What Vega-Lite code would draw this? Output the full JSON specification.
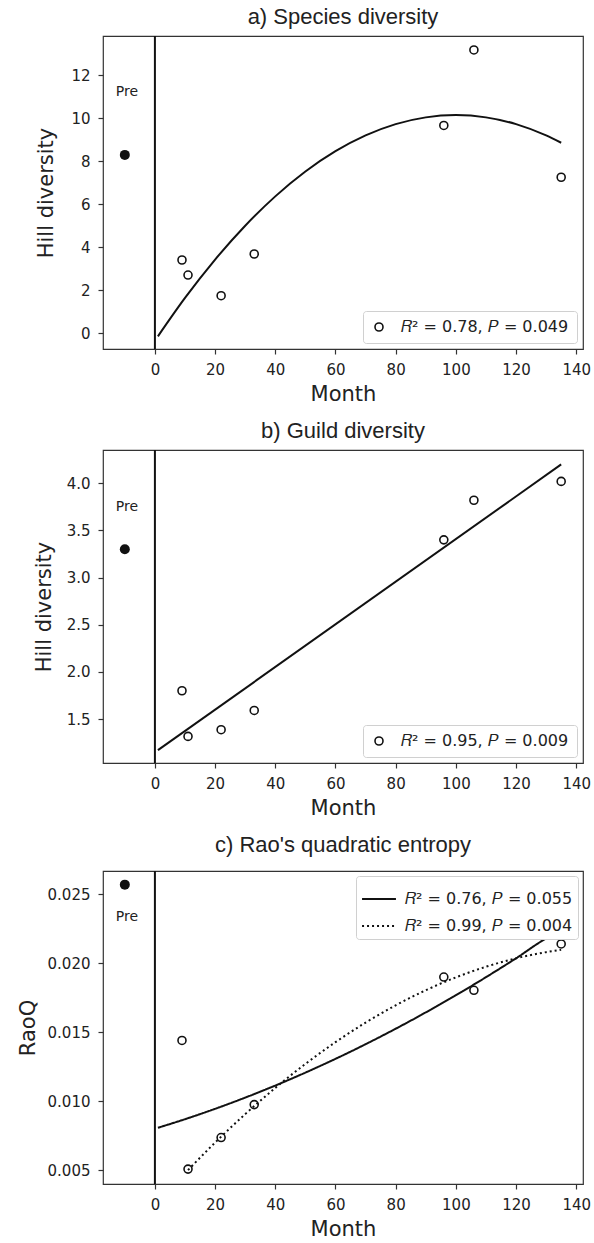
{
  "$schema": "https://vega.github.io/schema/vega-lite/v6.json",
  "background": "white",
  "padding": {"left": 16, "top": 5, "right": 5, "bottom": 5},
  "spacing": 14,
  "config": {
    "font": "DejaVu Sans",
    "view": {"stroke": "#333", "strokeWidth": 1.2},
    "axis": {"grid": false, "domain": false, "tickColor": "#333", "tickSize": 5, "tickWidth": 1.2, "labelPadding": 8, "labelFontSize": 15, "labelColor": "#222", "labelFont": "DejaVu Sans", "titleFont": "DejaVu Sans", "titleFontSize": 21, "titleFontWeight": "normal", "titleColor": "#222"},
    "title": {"font": "Liberation Sans", "fontSize": 22, "fontWeight": "normal", "color": "#222"},
    "legend": {"strokeColor": "#d0d0d0", "fillColor": "white", "padding": 7, "cornerRadius": 3, "labelFontSize": 16, "labelFont": "DejaVu Sans", "labelColor": "#222", "labelOffset": 12, "offset": 6, "symbolStrokeColor": "#111", "symbolStrokeWidth": 1.6, "symbolSize": 64, "rowPadding": 5, "labelLimit": 400}
  },
  "datasets": {
    "a_pts": [{"x": 9, "y": 3.41}, {"x": 11, "y": 2.71}, {"x": 22, "y": 1.75}, {"x": 33, "y": 3.69}, {"x": 96, "y": 9.67}, {"x": 106, "y": 13.18}, {"x": 135, "y": 7.26}],
    "a_pre": [{"x": -10, "y": 8.3}],
    "a_lbl": [{"x": -9.3, "y": 11.22, "label": "Pre"}],
    "a_fit": [{"x": 1, "y": -0.14}, {"x": 10, "y": 1.645}, {"x": 20, "y": 3.43}, {"x": 30, "y": 5.005}, {"x": 40, "y": 6.37}, {"x": 50, "y": 7.525}, {"x": 60, "y": 8.47}, {"x": 70, "y": 9.205}, {"x": 80, "y": 9.73}, {"x": 90, "y": 10.045}, {"x": 100, "y": 10.15}, {"x": 110, "y": 10.045}, {"x": 120, "y": 9.73}, {"x": 130, "y": 9.205}, {"x": 135, "y": 8.864}],
    "b_pts": [{"x": 9, "y": 1.8}, {"x": 11, "y": 1.316}, {"x": 22, "y": 1.387}, {"x": 33, "y": 1.591}, {"x": 96, "y": 3.4}, {"x": 106, "y": 3.82}, {"x": 135, "y": 4.02}],
    "b_pre": [{"x": -10, "y": 3.3}],
    "b_lbl": [{"x": -9.3, "y": 3.752, "label": "Pre"}],
    "b_fit": [{"x": 1, "y": 1.17}, {"x": 135, "y": 4.2}],
    "c_pts": [{"x": 9, "y": 0.0144}, {"x": 11, "y": 0.00507}, {"x": 22, "y": 0.00736}, {"x": 33, "y": 0.00975}, {"x": 96, "y": 0.019}, {"x": 106, "y": 0.01804}, {"x": 135, "y": 0.0214}],
    "c_pre": [{"x": -10, "y": 0.0257}],
    "c_lbl": [{"x": -9.3, "y": 0.02332, "label": "Pre"}],
    "c_fit1": [{"x": 1, "y": 0.008066}, {"x": 10, "y": 0.00869}, {"x": 20, "y": 0.009442}, {"x": 30, "y": 0.010255}, {"x": 40, "y": 0.01113}, {"x": 50, "y": 0.012068}, {"x": 60, "y": 0.013066}, {"x": 70, "y": 0.014127}, {"x": 80, "y": 0.01525}, {"x": 90, "y": 0.016434}, {"x": 100, "y": 0.01768}, {"x": 110, "y": 0.018988}, {"x": 120, "y": 0.020358}, {"x": 130, "y": 0.021789}, {"x": 135, "y": 0.0223}],
    "c_fit2": [{"x": 11, "y": 0.005}, {"x": 20, "y": 0.006994}, {"x": 30, "y": 0.009057}, {"x": 40, "y": 0.010958}, {"x": 50, "y": 0.012697}, {"x": 60, "y": 0.014276}, {"x": 70, "y": 0.015693}, {"x": 80, "y": 0.016948}, {"x": 90, "y": 0.018042}, {"x": 100, "y": 0.018975}, {"x": 110, "y": 0.019746}, {"x": 120, "y": 0.020356}, {"x": 130, "y": 0.020805}, {"x": 135, "y": 0.02097}]
  },
  "resolve": {"scale": {"x": "independent", "y": "independent", "shape": "independent", "strokeDash": "independent"}, "legend": {"shape": "independent", "strokeDash": "independent"}},
  "vconcat": [
    {
      "width": 480, "height": 313,
      "title": {"text": "a) Species diversity", "offset": 6},
      "layer": [
        {"data": {"name": "a_fit"}, "mark": {"type": "line", "color": "#111", "strokeWidth": 2, "interpolate": "monotone"},
         "encoding": {
           "x": {"field": "x", "type": "quantitative", "scale": {"domain": [-17.25, 142.25], "nice": false, "zero": false}, "axis": {"values": [0, 20, 40, 60, 80, 100, 120, 140], "title": "Month", "titlePadding": 6}},
           "y": {"field": "y", "type": "quantitative", "scale": {"domain": [-0.73, 13.83], "nice": false, "zero": false}, "axis": {"values": [0, 2, 4, 6, 8, 10, 12], "title": "Hill diversity", "titlePadding": 14}}}},
        {"data": {"values": [{}]}, "mark": {"type": "rule", "color": "#111", "strokeWidth": 2},
         "encoding": {"x": {"datum": 0, "type": "quantitative", "scale": {"domain": [-17.25, 142.25], "nice": false, "zero": false}}}},
        {"data": {"name": "a_pts"}, "mark": {"type": "point", "filled": false, "color": "#111", "strokeWidth": 1.6, "size": 64, "opacity": 1},
         "encoding": {
           "x": {"field": "x", "type": "quantitative", "scale": {"domain": [-17.25, 142.25], "nice": false, "zero": false}},
           "y": {"field": "y", "type": "quantitative", "scale": {"domain": [-0.73, 13.83], "nice": false, "zero": false}},
           "shape": {"datum": "𝑅² = 0.78, 𝑃 = 0.049", "type": "nominal", "scale": {"range": ["circle"]}, "legend": {"title": null, "orient": "bottom-right", "padding": 8, "labelOffset": 14}}}},
        {"data": {"name": "a_pre"}, "mark": {"type": "point", "filled": true, "color": "#111", "size": 100, "opacity": 1},
         "encoding": {
           "x": {"field": "x", "type": "quantitative", "scale": {"domain": [-17.25, 142.25], "nice": false, "zero": false}},
           "y": {"field": "y", "type": "quantitative", "scale": {"domain": [-0.73, 13.83], "nice": false, "zero": false}}}},
        {"data": {"name": "a_lbl"}, "mark": {"type": "text", "fontSize": 14, "color": "#222", "font": "DejaVu Sans"},
         "encoding": {
           "x": {"field": "x", "type": "quantitative", "scale": {"domain": [-17.25, 142.25], "nice": false, "zero": false}},
           "y": {"field": "y", "type": "quantitative", "scale": {"domain": [-0.73, 13.83], "nice": false, "zero": false}},
           "text": {"field": "label"}}}
      ]
    },
    {
      "width": 480, "height": 313,
      "title": {"text": "b) Guild diversity", "offset": 6},
      "layer": [
        {"data": {"name": "b_fit"}, "mark": {"type": "line", "color": "#111", "strokeWidth": 2},
         "encoding": {
           "x": {"field": "x", "type": "quantitative", "scale": {"domain": [-17.25, 142.25], "nice": false, "zero": false}, "axis": {"values": [0, 20, 40, 60, 80, 100, 120, 140], "title": "Month", "titlePadding": 6}},
           "y": {"field": "y", "type": "quantitative", "scale": {"domain": [1.034, 4.353], "nice": false, "zero": false}, "axis": {"values": [1.5, 2.0, 2.5, 3.0, 3.5, 4.0], "format": ".1f", "title": "Hill diversity", "titlePadding": 12}}}},
        {"data": {"values": [{}]}, "mark": {"type": "rule", "color": "#111", "strokeWidth": 2},
         "encoding": {"x": {"datum": 0, "type": "quantitative", "scale": {"domain": [-17.25, 142.25], "nice": false, "zero": false}}}},
        {"data": {"name": "b_pts"}, "mark": {"type": "point", "filled": false, "color": "#111", "strokeWidth": 1.6, "size": 64, "opacity": 1},
         "encoding": {
           "x": {"field": "x", "type": "quantitative", "scale": {"domain": [-17.25, 142.25], "nice": false, "zero": false}},
           "y": {"field": "y", "type": "quantitative", "scale": {"domain": [1.034, 4.353], "nice": false, "zero": false}},
           "shape": {"datum": "𝑅² = 0.95, 𝑃 = 0.009", "type": "nominal", "scale": {"range": ["circle"]}, "legend": {"title": null, "orient": "bottom-right", "padding": 8, "labelOffset": 14}}}},
        {"data": {"name": "b_pre"}, "mark": {"type": "point", "filled": true, "color": "#111", "size": 100, "opacity": 1},
         "encoding": {
           "x": {"field": "x", "type": "quantitative", "scale": {"domain": [-17.25, 142.25], "nice": false, "zero": false}},
           "y": {"field": "y", "type": "quantitative", "scale": {"domain": [1.034, 4.353], "nice": false, "zero": false}}}},
        {"data": {"name": "b_lbl"}, "mark": {"type": "text", "fontSize": 14, "color": "#222", "font": "DejaVu Sans"},
         "encoding": {
           "x": {"field": "x", "type": "quantitative", "scale": {"domain": [-17.25, 142.25], "nice": false, "zero": false}},
           "y": {"field": "y", "type": "quantitative", "scale": {"domain": [1.034, 4.353], "nice": false, "zero": false}},
           "text": {"field": "label"}}}
      ]
    },
    {
      "width": 480, "height": 313,
      "title": {"text": "c) Rao's quadratic entropy", "offset": 13},
      "layer": [
        {"data": {"name": "c_fit1"}, "mark": {"type": "line", "color": "#111", "strokeWidth": 2, "interpolate": "monotone"},
         "encoding": {
           "x": {"field": "x", "type": "quantitative", "scale": {"domain": [-17.25, 142.25], "nice": false, "zero": false}, "axis": {"values": [0, 20, 40, 60, 80, 100, 120, 140], "title": "Month", "titlePadding": 6}},
           "y": {"field": "y", "type": "quantitative", "scale": {"domain": [0.00399, 0.02669], "nice": false, "zero": false}, "axis": {"values": [0.005, 0.01, 0.015, 0.02, 0.025], "format": ".3f", "title": "RaoQ", "titlePadding": 9}},
           "strokeDash": {"datum": "𝑅² = 0.76, 𝑃 = 0.055", "type": "nominal", "scale": {"domain": ["𝑅² = 0.76, 𝑃 = 0.055", "𝑅² = 0.99, 𝑃 = 0.004"], "range": [[1, 0], [2, 3]]}, "legend": {"title": null, "orient": "top-right", "symbolType": "stroke", "symbolSize": 1150, "symbolStrokeWidth": 2, "labelOffset": 8, "rowPadding": 1, "padding": 5, "offset": 5}}}},
        {"data": {"name": "c_fit2"}, "mark": {"type": "line", "color": "#111", "strokeWidth": 2, "interpolate": "monotone"},
         "encoding": {
           "x": {"field": "x", "type": "quantitative", "scale": {"domain": [-17.25, 142.25], "nice": false, "zero": false}},
           "y": {"field": "y", "type": "quantitative", "scale": {"domain": [0.00399, 0.02669], "nice": false, "zero": false}},
           "strokeDash": {"datum": "𝑅² = 0.99, 𝑃 = 0.004", "type": "nominal", "scale": {"domain": ["𝑅² = 0.76, 𝑃 = 0.055", "𝑅² = 0.99, 𝑃 = 0.004"], "range": [[1, 0], [2, 3]]}}}},
        {"data": {"values": [{}]}, "mark": {"type": "rule", "color": "#111", "strokeWidth": 2},
         "encoding": {"x": {"datum": 0, "type": "quantitative", "scale": {"domain": [-17.25, 142.25], "nice": false, "zero": false}}}},
        {"data": {"name": "c_pts"}, "mark": {"type": "point", "filled": false, "color": "#111", "strokeWidth": 1.6, "size": 64, "opacity": 1},
         "encoding": {
           "x": {"field": "x", "type": "quantitative", "scale": {"domain": [-17.25, 142.25], "nice": false, "zero": false}},
           "y": {"field": "y", "type": "quantitative", "scale": {"domain": [0.00399, 0.02669], "nice": false, "zero": false}}}},
        {"data": {"name": "c_pre"}, "mark": {"type": "point", "filled": true, "color": "#111", "size": 100, "opacity": 1},
         "encoding": {
           "x": {"field": "x", "type": "quantitative", "scale": {"domain": [-17.25, 142.25], "nice": false, "zero": false}},
           "y": {"field": "y", "type": "quantitative", "scale": {"domain": [0.00399, 0.02669], "nice": false, "zero": false}}}},
        {"data": {"name": "c_lbl"}, "mark": {"type": "text", "fontSize": 14, "color": "#222", "font": "DejaVu Sans"},
         "encoding": {
           "x": {"field": "x", "type": "quantitative", "scale": {"domain": [-17.25, 142.25], "nice": false, "zero": false}},
           "y": {"field": "y", "type": "quantitative", "scale": {"domain": [0.00399, 0.02669], "nice": false, "zero": false}},
           "text": {"field": "label"}}}
      ]
    }
  ]
}
